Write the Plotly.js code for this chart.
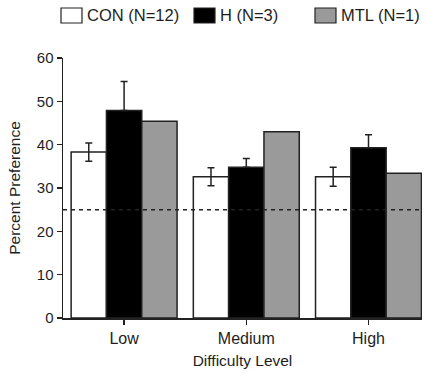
<!DOCTYPE html>
<html>
<head>
<meta charset="utf-8">
<script src="https://cdn.plot.ly/plotly-3.0.1.min.js"></script>
<style>html,body{margin:0;padding:0;background:#fff;}#chart{width:428px;height:373px;}</style>
</head>
<body>
<div id="chart"></div>
<script>
// ---- data ----
const categories = ["Low", "Medium", "High"];
const seriesNames = ["CON (N=12)", "H (N=3)", "MTL (N=1)"];
const conValues = [38.3, 32.6, 32.6];
const conErr = [2.1, 2.1, 2.2];
const hValues = [47.9, 34.8, 39.3];
const hErrUp = [6.7, 2.0, 3.0];
const mtlValues = [45.4, 43.0, 33.4];
const chanceLevel = 25;
const yTicks = [0, 10, 20, 30, 40, 50, 60];

// ---- layout geometry (pixels) ----
const W = 428, H = 373;
const M = {l: 63, r: 6, t: 58, b: 55};
const pw = W - M.l - M.r, ph = H - M.t - M.b;
const px = x => (x - M.l) / pw;
const py = y => (H - M.b - y) / ph;

const fillColors = ["#ffffff", "#000000", "#9a9a9a"];
const edge = "#222222";
const txt = "#1e1e1e";
const font = "Liberation Sans, Arial, Helvetica, sans-serif";

const traces = [
  {type: "bar", x: categories, y: conValues, name: seriesNames[0],
   marker: {color: fillColors[0], line: {color: edge, width: 1.5}},
   error_y: {type: "data", array: conErr, visible: true, color: edge, thickness: 1.5, width: 3.5}},
  {type: "bar", x: categories, y: hValues, name: seriesNames[1],
   marker: {color: fillColors[1], line: {color: edge, width: 1.5}},
   error_y: {type: "data", symmetric: false, array: hErrUp, arrayminus: [0, 0, 0], visible: true, color: edge, thickness: 1.5, width: 3.5}},
  {type: "bar", x: categories, y: mtlValues, name: seriesNames[2],
   marker: {color: fillColors[2], line: {color: edge, width: 1.5}}}
];

const shapes = [
  {type: "line", xref: "paper", yref: "y", x0: 0, x1: 1, y0: chanceLevel, y1: chanceLevel,
   line: {color: edge, width: 1.5, dash: "4px,4px"}, layer: "above"}
];
const annotations = [];
const legBoxX = [61, 194, 315];
const legTextX = [85, 218, 339];
for (let i = 0; i < seriesNames.length; i++) {
  shapes.push({type: "rect", xref: "paper", yref: "paper",
    x0: px(legBoxX[i]), x1: px(legBoxX[i] + 21), y0: py(23), y1: py(8),
    fillcolor: fillColors[i], line: {color: edge, width: 1.2}});
  annotations.push({xref: "paper", yref: "paper", x: px(legTextX[i]), y: py(15.5),
    xanchor: "left", yanchor: "middle", showarrow: false, text: seriesNames[i],
    font: {family: font, size: 16.5, color: txt}});
}

const layout = {
  width: W, height: H,
  margin: M,
  paper_bgcolor: "#fff", plot_bgcolor: "#fff",
  showlegend: false,
  barmode: "group", bargap: 0.133, bargroupgap: 0,
  font: {family: font, color: txt},
  xaxis: {
    type: "category", range: [-0.5, -0.5 + pw / 122.2],
    showline: true, linecolor: edge, linewidth: 1.5,
    ticks: "outside", ticklen: 5, tickwidth: 1.5, tickcolor: edge,
    showgrid: false, zeroline: false,
    tickfont: {size: 16, color: txt},
    title: {text: "Difficulty Level", font: {size: 15.5, color: txt}, standoff: 9}
  },
  yaxis: {
    range: [0, 60], tickvals: yTicks,
    showline: true, linecolor: edge, linewidth: 1.5,
    ticks: "outside", ticklen: 5, tickwidth: 1.5, tickcolor: edge,
    showgrid: false, zeroline: false,
    tickfont: {size: 15, color: txt},
    title: {text: "Percent Preference", font: {size: 15.5, color: txt}, standoff: 12}
  },
  shapes: shapes,
  annotations: annotations
};

Plotly.newPlot("chart", traces, layout, {displayModeBar: false, staticPlot: true});
</script>
</body>
</html>
